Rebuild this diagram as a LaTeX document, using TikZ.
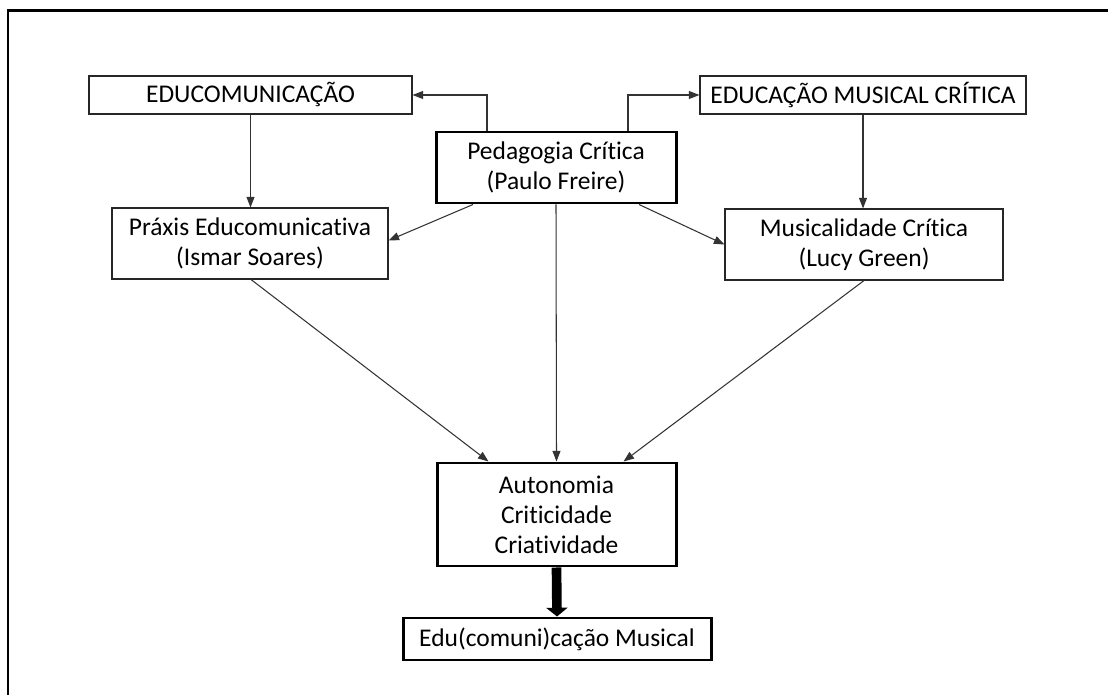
\documentclass[tikz,border=0pt]{standalone}
\usepackage{fontspec}
\setmainfont{Carlito}[RawFeature={-liga}]
\usetikzlibrary{positioning}
\usetikzlibrary{calc,arrows.meta}
\tikzset{
	box/.style={draw=black!85, line width=0.6pt, inner sep=0pt, align=center, font=\fontsize{14.5}{17}\selectfont},
	thickbox/.style={box, draw=black, line width=1.7pt},
	link/.style={draw=black!80, line width=0.6pt, -{Triangle[length=6pt,width=4.5pt]}},
}
\begin{document}
\begin{tikzpicture}[x=0.02cm, y=-0.02cm]
		\useasboundingbox (0,0) rectangle (1108,695);
		\draw[line width=1.7pt] (8,695) -- (8,11) -- (1108,11);

		\node[box, minimum width=323*0.02cm, minimum height=38*0.02cm] (educom) at (250.5,95) {EDUCOMUNICAÇÃO};
		\node[box, minimum width=326*0.02cm, minimum height=38*0.02cm] (edumus) at (863,95) {EDUCAÇÃO MUSICAL CRÍTICA};
		\node[thickbox, minimum width=240*0.02cm, minimum height=71*0.02cm] (pedag) at (556,167.5) {Pedagogia Crítica\\(Paulo Freire)};
		\node[box, minimum width=276*0.02cm, minimum height=71*0.02cm] (praxis) at (250,243.5) {Práxis Educomunicativa\\(Ismar Soares)};
		\node[box, minimum width=278*0.02cm, minimum height=71*0.02cm] (music) at (864,244.5) {Musicalidade Crítica\\(Lucy Green)};
		\node[thickbox, minimum width=239*0.02cm, minimum height=103*0.02cm] (autono) at (556.5,514.5) {Autonomia\\Criticidade\\Criatividade};
		\node[thickbox, minimum width=308*0.02cm, minimum height=42*0.02cm] (edumusical) at (557,639) {Edu(comuni)cação Musical};

		\draw[link] ($(pedag.north)+(-69,0)$) |- (educom.east);
		\draw[link] ($(pedag.north)+(72,0)$) |- (edumus.west);
		\draw[link] (educom.south) -- (educom.south |- praxis.north);
		\draw[link] (edumus.south) -- (edumus.south |- music.north);
		\draw[link] ($(pedag.south)+(-83,0)$) -- ($(praxis.east)+(0,-3)$);
		\draw[link] ($(pedag.south)+(83,0)$) -- (music.west);
		\draw[link] (pedag.south) -- (autono.north);
		\draw[link] ($(praxis.south)+(1,0)$) -- ($(autono.north)+(-68,0)$);
		\draw[link] (music.south) -- ($(autono.north)+(67,0)$);
		\draw[line width=5.5pt, -{Triangle[length=5pt,width=12pt]}] (autono.south) -- (edumusical.north);
	\end{tikzpicture}
\end{document}
